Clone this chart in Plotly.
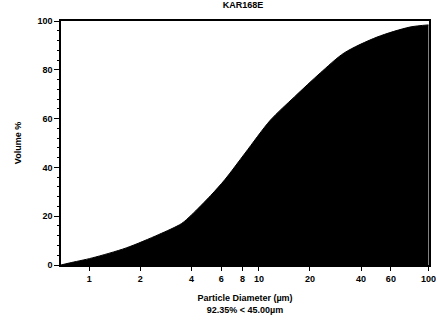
import plotly.graph_objects as go

diameter_um = [0.68, 0.76, 1.04, 1.65, 2.57, 3.5, 4.0, 5.2, 6.3, 8.3, 11.7, 16.2, 23.0, 31.8, 49.7, 77.5, 100.0]
volume_pct = [0.0, 0.8, 2.9, 7.0, 12.5, 17.0, 20.5, 28.5, 35.0, 45.9, 59.4, 68.9, 78.7, 86.9, 93.4, 97.5, 98.4]

x_tick_vals = [1, 2, 4, 6, 8, 10, 20, 40, 60, 100]
x_tick_text = ["1", "2", "4", "6", "8", "10", "20", "40", "60", "100"]
y_tick_vals = [0, 20, 40, 60, 80, 100]

title_text = "KAR168E"
x_title = "Particle Diameter (µm)<br>92.35% &lt; 45.00µm"
y_title = "Volume %"

font = dict(family="Liberation Sans, Arial, sans-serif", size=9, color="black")

fig = go.Figure()
fig.add_trace(go.Scatter(
    x=diameter_um, y=volume_pct, mode="lines",
    line=dict(color="black", width=1, shape="spline", smoothing=0.8),
    fill="tozeroy", fillcolor="black", hoverinfo="skip", showlegend=False,
))

fig.update_layout(
    width=438, height=324,
    margin=dict(l=61, r=9, t=21, b=59),
    paper_bgcolor="white", plot_bgcolor="white",
    font=font,
    title=dict(text="<b>" + title_text + "</b>", x=0.555, xanchor="center", y=0.995, yanchor="top",
               font=dict(size=9, color="black")),
    showlegend=False,
)
fig.update_xaxes(
    type="log", range=[-0.167, 2.003], automargin=False,
    tickvals=x_tick_vals, ticktext=["<b>%s</b>" % t for t in x_tick_text],
    ticks="outside", ticklen=4, tickcolor="black", tickwidth=1,
    showline=True, linecolor="black", linewidth=1.5, mirror=True,
    showgrid=False, zeroline=False,
    title=dict(text="<b>" + x_title + "</b>", standoff=12, font=dict(size=9)),
)
fig.update_yaxes(
    range=[0, 100], automargin=False,
    tickvals=y_tick_vals, ticktext=["<b>%d</b>" % v for v in y_tick_vals],
    ticks="outside", ticklen=5, tickcolor="black", tickwidth=1,
    minor=dict(ticks="outside", ticklen=2, dtick=4, tickcolor="black"),
    showline=True, linecolor="black", linewidth=1.5, mirror=True,
    showgrid=False, zeroline=False,
    title=dict(text="<b>" + y_title + "</b>", standoff=14, font=dict(size=9)),
)

fig.write_html("out.html", config={"displayModeBar": False},
               post_script="document.body.style.margin='0';document.body.style.overflow='hidden';")
